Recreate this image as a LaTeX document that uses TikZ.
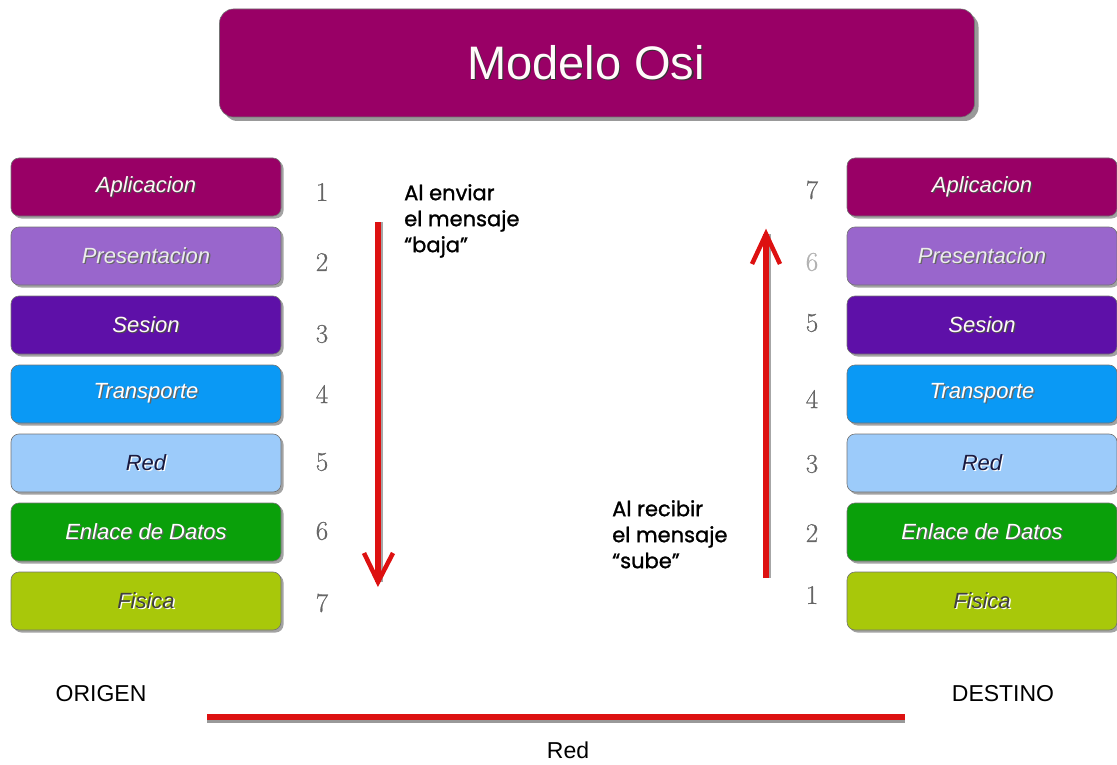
\documentclass[tikz,border=0pt]{standalone}
\usepackage{fontspec}
\newfontfamily\arialfont{Liberation Sans}
\newfontfamily\handfont[FakeBold=1.2]{Poppins}
\newfontfamily\numfont[FakeBold=0.6]{Latin Modern Roman}
\usetikzlibrary{shadows}

\definecolor{titlepurple}{HTML}{990066}
\definecolor{apcol}{HTML}{990066}
\definecolor{prcol}{HTML}{9966CC}
\definecolor{secol}{HTML}{5E10A8}
\definecolor{trcol}{HTML}{0A99F5}
\definecolor{recol}{HTML}{9CCBFA}
\definecolor{encol}{HTML}{0AA00A}
\definecolor{ficol}{HTML}{A8C80A}
\definecolor{arrowred}{HTML}{DD1111}
\definecolor{navytext}{HTML}{1A1A40}

% text printed over a small offset copy of itself
\newcommand\shtext[2]{\rlap{\hspace{1.3pt}\raisebox{-1.3pt}{\color{#1}#2}}#2}

\tikzset{
  layerbox/.style={rounded corners=8pt, minimum width=270pt, minimum height=58pt,
    draw=black!55, line width=0.6pt,
    drop shadow={shadow xshift=2.5pt, shadow yshift=-2.5pt, fill=black!45, opacity=0.8},
    font=\arialfont\fontsize{22}{24}\selectfont\itshape, inner sep=0pt},
  levelnum/.style={font=\numfont\fontsize{27}{30}\selectfont, text=black!60},
  handnote/.style={font=\handfont\fontsize{21}{26}\selectfont, align=left, anchor=north west, inner sep=0pt},
  redline/.style={draw=arrowred, line width=5.5pt},
  redshade/.style={draw=black!35, line width=5.5pt},
  plainlabel/.style={font=\arialfont\fontsize{23}{26}\selectfont, text=black}
}

\begin{document}
\begin{tikzpicture}[x=1pt, y=-1pt]
\useasboundingbox (0,0) rectangle (1117,765);

% title banner
\node[rounded corners=14pt, minimum width=755pt, minimum height=108pt, fill=titlepurple,
  draw=black!55, line width=0.6pt,
  drop shadow={shadow xshift=4pt, shadow yshift=-4pt, fill=black!50, opacity=0.8},
  font=\arialfont\fontsize{47}{52}\selectfont, text=white!92!pink] (title) at (597,63)
  {\shtext{black!80}{Modelo Osi}\hspace*{22pt}};

% sender stack (ORIGEN)
\node[layerbox, fill=apcol, text=white!88!pink] (la) at (146,187) {\shtext{black!70}{Aplicacion}};
\node[layerbox, fill=prcol, text=white!85!gray] (lp) at (146,256) {\shtext{black!60}{Presentacion}};
\node[layerbox, fill=secol, text=white!90!pink] (ls) at (146,325) {\shtext{black!70}{Sesion}};
\node[layerbox, fill=trcol, text=white] (lt) at (146,394) {\shtext{black!60}{Transporte}};
\node[layerbox, fill=recol, text=navytext] (lr) at (146,463) {\shtext{white}{Red}};
\node[layerbox, fill=encol, text=white] (le) at (146,532) {\shtext{black!60}{Enlace de Datos}};
\node[layerbox, fill=ficol, text=black!75] (lf) at (146,601) {\shtext{white}{Fisica}};

% receiver stack (DESTINO)
\node[layerbox, fill=apcol, text=white!88!pink] (ra) at (982,187) {\shtext{black!70}{Aplicacion}};
\node[layerbox, fill=prcol, text=white!85!gray] (rp) at (982,256) {\shtext{black!60}{Presentacion}};
\node[layerbox, fill=secol, text=white!90!pink] (rs) at (982,325) {\shtext{black!70}{Sesion}};
\node[layerbox, fill=trcol, text=white] (rt) at (982,394) {\shtext{black!60}{Transporte}};
\node[layerbox, fill=recol, text=navytext] (rr) at (982,463) {\shtext{white}{Red}};
\node[layerbox, fill=encol, text=white] (re) at (982,532) {\shtext{black!60}{Enlace de Datos}};
\node[layerbox, fill=ficol, text=black!75] (rf) at (982,601) {\shtext{white}{Fisica}};

% level numbers, sender side
\node[levelnum] (n1) at (322,192) {1};
\node[levelnum] (n2) at (322,262) {2};
\node[levelnum] (n3) at (322,334) {3};
\node[levelnum] (n4) at (322,394) {4};
\node[levelnum] (n5) at (322,462) {5};
\node[levelnum] (n6) at (322,531) {6};
\node[levelnum] (n7) at (322,603) {7};

% level numbers, receiver side
\node[levelnum] (m7) at (812,190) {7};
\node[levelnum, text=black!30] (m6) at (812,262) {6};
\node[levelnum] (m5) at (812,323) {5};
\node[levelnum] (m4) at (812,399) {4};
\node[levelnum] (m3) at (812,464) {3};
\node[levelnum] (m2) at (812,533) {2};
\node[levelnum] (m1) at (812,595) {1};

% downward arrow: the message goes down the sender stack
\coordinate (dtop) at (378,222);
\coordinate (dbot) at (378,582);
\coordinate (dl) at (364,553);
\coordinate (dr) at (393,553);
\draw[redshade] ([xshift=2.5pt]dtop) -- ([xshift=2.5pt]dbot);
\draw[redline] (dtop) -- (dbot);
\draw[redline, line width=4.5pt, line join=miter] (dl) -- (dbot) -- (dr);

% upward arrow: the message goes up the receiver stack
\coordinate (ubot) at (766,578);
\coordinate (utop) at (766,234);
\coordinate (ul) at (752,264);
\coordinate (ur) at (780,264);
\draw[redshade] ([xshift=2.5pt]ubot) -- ([xshift=2.5pt]utop);
\draw[redline] (ubot) -- (utop);
\draw[redline, line width=4.5pt, line join=miter] (ul) -- (utop) -- (ur);

% notes
\node[handnote] (nsend) at (404,184) {Al enviar\\el mensaje\\“baja”};
\node[handnote] (nrecv) at (612,500) {Al recibir\\el mensaje\\“sube”};

% network link between both ends
\node[plainlabel] (orig) at (101,694) {ORIGEN};
\node[plainlabel] (dest) at (1003,694) {DESTINO};
\coordinate (netl) at (207,717);
\coordinate (netr) at (905,717);
\draw[draw=black!40, line width=6.5pt] ([yshift=-2.5pt]netl) -- ([yshift=-2.5pt]netr);
\draw[draw=arrowred, line width=6.5pt] (netl) -- (netr);
\node[plainlabel] (net) at (568,750) {Red};
\end{tikzpicture}
\end{document}
